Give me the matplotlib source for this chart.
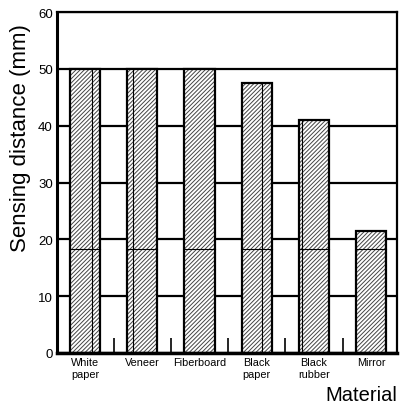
import numpy as np
import matplotlib
matplotlib.use("Agg")
import matplotlib.pyplot as plt

plt.rcParams['font.family'] = ['Liberation Sans', 'DejaVu Sans']
plt.rcParams['hatch.linewidth'] = 0.7

### data
materials = ["White\npaper", "Veneer", "Fiberboard", "Black\npaper", "Black\nrubber", "Mirror"]
distance = [50, 50, 50, 47.5, 41, 21.5]
inner_line = [0.73, 0.2, None, 0.68, 0.1, 0.95]   # extra thin vertical line inside bar (fraction of width)
mid_level = 18.3
yticks = [0, 10, 20, 30, 40, 50, 60]

### --------------------------------------------
fig = plt.figure(figsize=(4.03, 4.10), dpi=100)
ax = fig.add_axes([0.1414, 0.1366, 0.8436, 0.8314])

x = np.arange(len(materials))
w = 0.53

ax.set_axisbelow(True)
ax.yaxis.grid(True, color="black", lw=1.6)

ax.bar(x, distance, width=w, color="white", edgecolor="#444444", hatch="////////", lw=0, zorder=2)
ax.bar(x, distance, width=w, fill=False, edgecolor="black", lw=1.6, zorder=3)

for xi, d, f in zip(x, distance, inner_line):
    ax.plot([xi - w/2, xi + w/2], [mid_level, mid_level], color="black", lw=0.8, zorder=3)
    if f is not None:
        xl = xi - w/2 + f*w
        ax.plot([xl, xl], [0, d], color="black", lw=0.8, zorder=3)

ax.set_xlim(-0.49, 5.45)
ax.set_ylim(0, 60)
ax.set_yticks(yticks)
ax.set_yticklabels([str(t) for t in yticks], fontsize=9.5)
ax.tick_params(axis="y", length=0, pad=3)

ax.set_xticks(x)
ax.set_xticklabels(materials, fontsize=7.8, linespacing=1.25, va="top")
ax.tick_params(axis="x", length=0, pad=3)
ax.set_xticks(x[:-1] + 0.5, minor=True)
ax.tick_params(axis="x", which="minor", direction="in", length=11, width=1.2)

for s in ax.spines.values():
    s.set_linewidth(1.6)
ax.spines["bottom"].set_linewidth(2.5)
ax.spines["left"].set_linewidth(2.2)

fig.text(0.052, 0.663, "Sensing distance (mm)", fontsize=16, rotation=90, ha="center", va="center")
fig.text(0.985, 0.012, "Material", fontsize=14.5, ha="right", va="bottom")

plt.savefig("out.png", dpi=100)
plt.close()
